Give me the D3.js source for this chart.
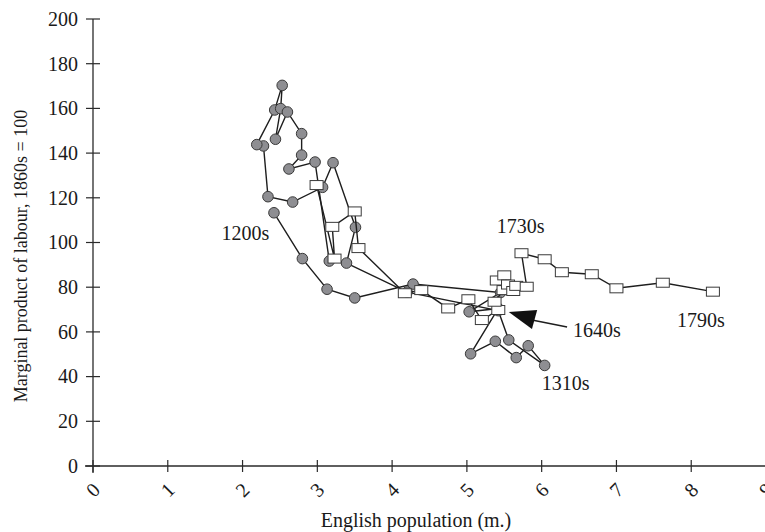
<!DOCTYPE html>
<html>
<head>
<meta charset="utf-8">
<script src="https://cdn.jsdelivr.net/npm/d3@7"></script>
<style>
  html, body { margin: 0; padding: 0; background: #fff; }
  svg { display: block; }
</style>
</head>
<body>
<svg id="chart" width="765" height="532"></svg>
<script>
// ---- data ----
const xTicks = [0, 1, 2, 3, 4, 5, 6, 7, 8, 9];
const yTicks = [0, 20, 40, 60, 80, 100, 120, 140, 160, 180, 200];

// medieval decades (circles), population (m.) and MPL
const circlePop = [2.42, 2.80, 3.13, 3.50, 4.28, 5.45, 5.03, 5.42, 5.05, 5.38, 5.66, 5.82, 6.04, 5.56, 5.42, 4.20,
                   3.39, 3.51, 3.21, 3.07, 2.67, 2.34, 2.28, 2.19, 2.43, 2.53, 2.51, 2.44, 2.60, 2.79, 2.79, 2.62, 2.97, 3.16];
const circleMPL = [113.3, 92.8, 79.1, 75.2, 81.4, 77.6, 69.0, 70.5, 50.2, 55.8, 48.5, 53.8, 45.0, 56.4, 69.5, 77.8,
                   90.8, 106.8, 135.7, 124.7, 118.1, 120.5, 143.2, 143.8, 159.3, 170.3, 159.9, 146.2, 158.4, 148.7, 139.1, 132.9, 136.0, 91.7];

// early modern decades (squares)
const squarePop = [2.99, 3.23, 3.20, 3.50, 3.55, 4.17, 4.39, 4.75, 5.02, 5.20, 5.42, 5.37, 5.49, 5.40, 5.50, 5.55, 5.62, 5.66, 5.80,
                   5.73, 6.04, 6.27, 6.67, 7.00, 7.62, 8.29];
const squareMPL = [125.7, 92.8, 107.0, 113.9, 97.5, 77.3, 78.7, 70.5, 74.6, 65.3, 69.8, 73.5, 78.7, 83.0, 85.3, 81.2, 78.3, 80.6, 80.2,
                   95.2, 92.5, 86.7, 85.8, 79.5, 82.0, 78.0];

// annotations (data coordinates)
const annotText = ["1200s", "1730s", "1310s", "1640s", "1790s"];
const annotX = [1.72, 5.40, 6.00, 6.42, 7.81];
const annotY = [101.1, 104.3, 34.0, 57.7, 62.2];
const arrowHeadX = [5.56, 5.94, 5.87];
const arrowHeadY = [68.9, 69.8, 61.3];
const arrowTailX = [5.87, 6.34];
const arrowTailY = [65.3, 62.2];

const xTitle = "English population (m.)";
const yTitle = "Marginal product of labour, 1860s = 100";

// ---- drawing ----
const FONT = "'Liberation Serif', 'Times New Roman', serif";
const svg = d3.select("#chart");
const x = d3.scaleLinear().domain([0, 9]).range([93, 766]);
const y = d3.scaleLinear().domain([0, 200]).range([466, 19]);
const ink = "#2a2a2a";
const txt = "#1a1a1a";

svg.append("rect").attr("width", 765).attr("height", 532).attr("fill", "#fff");

// axes
const ax = svg.append("g");
ax.append("line").attr("x1", x(0)).attr("x2", x(0)).attr("y1", y(200)).attr("y2", y(0) + 7)
  .attr("stroke", ink).attr("stroke-width", 1.3);
ax.append("line").attr("x1", x(0) - 8).attr("x2", 765).attr("y1", y(0)).attr("y2", y(0))
  .attr("stroke", ink).attr("stroke-width", 1.3);

ax.selectAll(".yt").data(yTicks).enter().append("line")
  .attr("x1", x(0) - 7).attr("x2", x(0) + 7)
  .attr("y1", d => y(d)).attr("y2", d => y(d))
  .attr("stroke", ink).attr("stroke-width", 1.2);
ax.selectAll(".yl").data(yTicks).enter().append("text")
  .attr("x", x(0) - 15).attr("y", d => y(d)).attr("dy", "0.34em")
  .attr("font-family", FONT).attr("fill", txt)
  .attr("text-anchor", "end").attr("font-size", 20).text(d => d);

ax.selectAll(".xt").data(xTicks).enter().append("line")
  .attr("x1", d => x(d)).attr("x2", d => x(d))
  .attr("y1", y(0) - 6).attr("y2", y(0) + 6)
  .attr("stroke", ink).attr("stroke-width", 1.2);
ax.selectAll(".xl").data(xTicks).enter().append("text")
  .attr("transform", d => `translate(${x(d)},${y(0) + 24}) rotate(-45)`)
  .attr("font-family", FONT).attr("fill", txt)
  .attr("text-anchor", "middle").attr("dy", "0.34em").attr("font-size", 20).text(d => d);

svg.append("text").attr("x", 416).attr("y", 527).attr("text-anchor", "middle")
  .attr("font-family", FONT).attr("fill", txt)
  .attr("font-size", 20).text(xTitle);
svg.append("text").attr("transform", "translate(27,256) rotate(-90)").attr("text-anchor", "middle")
  .attr("font-family", FONT).attr("fill", txt)
  .attr("font-size", 18).text(yTitle);

// series
const line = d3.line().x(d => x(d[0])).y(d => y(d[1]));
const circles = circlePop.map((p, i) => [p, circleMPL[i]]);
const squares = squarePop.map((p, i) => [p, squareMPL[i]]);

svg.append("path").datum(circles).attr("d", line).attr("fill", "none")
  .attr("stroke", "#1e1e1e").attr("stroke-width", 1.4);
svg.selectAll(".c").data(circles).enter().append("circle")
  .attr("cx", d => x(d[0])).attr("cy", d => y(d[1])).attr("r", 5.3)
  .attr("fill", "#8e8e92").attr("stroke", "#3a3a3a").attr("stroke-width", 1);

svg.append("path").datum(squares).attr("d", line).attr("fill", "none")
  .attr("stroke", "#1e1e1e").attr("stroke-width", 1.4);
svg.selectAll(".s").data(squares).enter().append("rect")
  .attr("x", d => x(d[0]) - 6.5).attr("y", d => y(d[1]) - 4.5)
  .attr("width", 13).attr("height", 9)
  .attr("fill", "#fff").attr("stroke", "#3a3a3a").attr("stroke-width", 1);

// arrow annotation
svg.append("path")
  .attr("d", d3.line()(arrowTailX.map((v, i) => [x(v), y(arrowTailY[i])])))
  .attr("stroke", "#1e1e1e").attr("stroke-width", 1.4).attr("fill", "none");
svg.append("polygon")
  .attr("points", arrowHeadX.map((v, i) => `${x(v)},${y(arrowHeadY[i])}`).join(" "))
  .attr("fill", "#111");

// labels
svg.selectAll(".ann").data(annotText).enter().append("text")
  .attr("x", (d, i) => x(annotX[i])).attr("y", (d, i) => y(annotY[i]))
  .attr("font-family", FONT).attr("fill", txt)
  .attr("font-size", 20).text(d => d);
</script>
</body>
</html>
